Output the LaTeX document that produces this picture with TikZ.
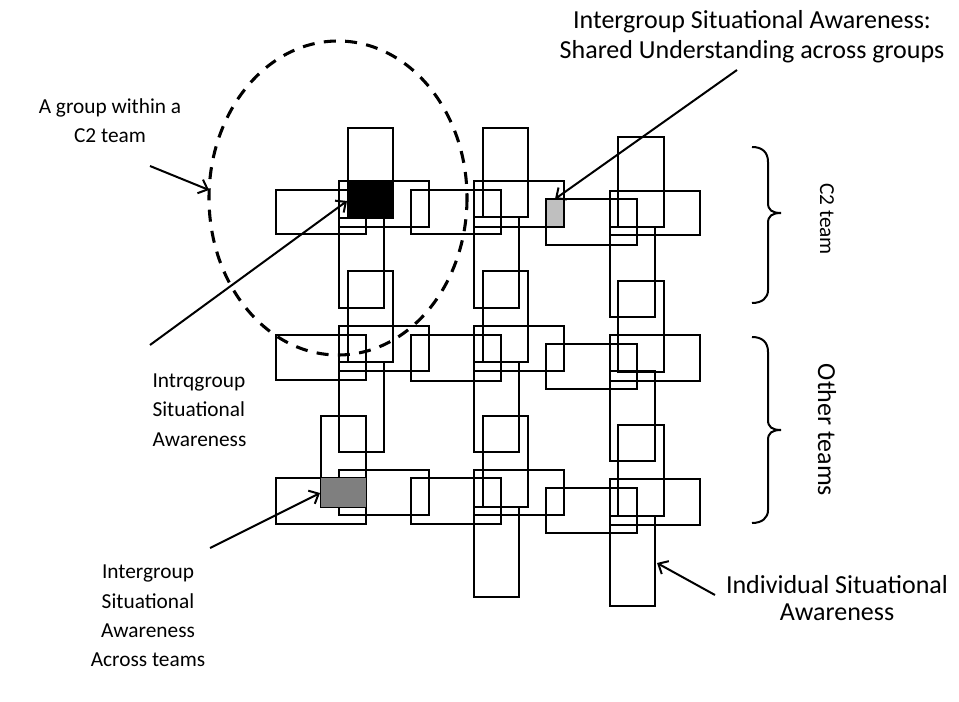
\documentclass[tikz,border=0pt]{standalone}
\usepackage{fontspec}
\setmainfont{Carlito}
\usepackage{xcolor}
\usetikzlibrary{arrows.meta}
\definecolor{sharedgray}{HTML}{BFBFBF}
\definecolor{teamgray}{HTML}{7F7F7F}
\tikzset{every picture/.append style={thick}}
\tikzset{
  sabox/.style={line width=2pt},
  grpring/.style={line width=2.3pt, dash pattern=on 9pt off 7pt},
  saarrow/.style={line width=1.5pt, -{Straight Barb[length=6pt,width=11pt]}},
  salabel/.style={font=\fontsize{16}{22}\selectfont, inner sep=0pt},
  biglabel/.style={font=\fontsize{19.5}{22.5}\selectfont, inner sep=0pt},
  teambrace/.style={line width=1.5pt}
}

\begin{document}
\begin{tikzpicture}[x=0.75pt, y=-0.75pt]
    \useasboundingbox (0,0) rectangle (959,702);
    % individual SA boxes, column by column
    \foreach \xa/\ya/\xb/\yb in {348/128/393/218, 339/181/429/227, 339/218/384/308,
        348/271/393/362, 339/326/429/371, 339/362/384/452, 321/416/366/507, 339/470/429/515,
        483/128/528/217, 474/181/564/227, 474/217/519/308, 483/271/528/362, 474/326/564/371,
        474/362/519/452, 483/416/528/507, 474/470/564/515, 474/507/519/597,
        618/137/664/227, 610/191/700/235, 610/227/655/317, 618/281/664/372, 610/335/700/381,
        610/371/655/461, 618/425/664/516, 610/479/700/525, 610/516/655/606}
        \draw[sabox] (\xa,\ya) rectangle (\xb,\yb);
    % boxes between the columns
    \foreach \xa/\xb/\ya/\yb in {276/366/190/234, 276/366/335/380, 276/366/478/524,
        411/501/190/234, 411/501/335/381, 411/501/478/524,
        546/637/199/245, 546/637/344/389, 546/637/488/533}
        \draw[sabox] (\xa,\ya) rectangle (\xb,\yb);
    % shared parts
    \fill (348,181) rectangle (393,218);
    \filldraw[sabox, fill=sharedgray] (546,199) rectangle (564,227);
    \fill[teamgray] (321,478) rectangle (366,507);
    % group ring
    \draw[grpring] (338,198) ellipse [x radius=129, y radius=157];
    % braces
    \draw[teambrace] (752,147) .. controls (762,147) and (768,152) .. (768,162) -- (768,203)
        .. controls (768,210) and (772,213) .. (781,213) .. controls (772,213) and (768,216) .. (768,223)
        -- (768,290) .. controls (768,298) and (762,303) .. (752,303);
    \draw[teambrace] (752,337) .. controls (762,337) and (768,342) .. (768,352) -- (768,420)
        .. controls (768,427) and (772,430) .. (781,430) .. controls (772,430) and (768,433) .. (768,440)
        -- (768,510) .. controls (768,518) and (762,523) .. (752,523);
    % labels
    \node[salabel, align=center] (grpnote) at (110,121) {A group within a\\C2 team};
    \node[biglabel, align=center] (interSA) at (752,37) {Intergroup Situational Awareness:\\Shared Understanding across groups};
    \node[salabel, align=left, anchor=west] (intraSA) at (152,410) {Intrqgroup\\Situational\\Awareness};
    \node[salabel, align=center] (acrossSA) at (148,616) {Intergroup\\Situational\\Awareness\\Across teams};
    \node[biglabel, align=center, font=\fontsize{19.5}{20.5}\selectfont] (indSA) at (837,598) {Individual Situational\\Awareness};
    \node[salabel, rotate=-90] (c2lbl) at (827,219) {C2 team};
    \node[biglabel, rotate=-90] (otherlbl) at (827,430) {Other teams};
    % arrow ends
    \coordinate (grpfrom) at (150,166);
    \coordinate (grptip) at (209,190);
    \coordinate (interfrom) at (737,70);
    \coordinate (intertip) at (555,199);
    \coordinate (intrafrom) at (150,345);
    \coordinate (intratip) at (347,201);
    \coordinate (acrossfrom) at (210,548);
    \coordinate (acrosstip) at (320,493);
    \coordinate (indfrom) at (715,595);
    \coordinate (indtip) at (657,563);
    \draw[saarrow] (grpfrom) -- (grptip);
    \draw[saarrow] (interfrom) -- (intertip);
    \draw[saarrow] (intrafrom) -- (intratip);
    \draw[saarrow] (acrossfrom) -- (acrosstip);
    \draw[saarrow] (indfrom) -- (indtip);
\end{tikzpicture}
\end{document}
